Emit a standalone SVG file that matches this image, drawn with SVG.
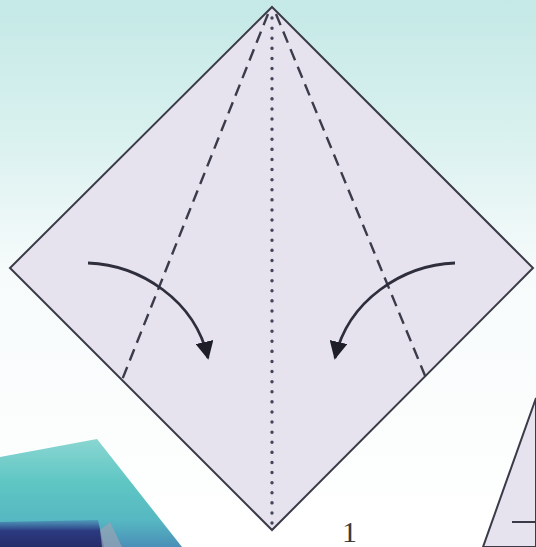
<svg xmlns="http://www.w3.org/2000/svg" width="536" height="547" viewBox="0 0 536 547">
<defs>
<linearGradient id="bg" x1="0" y1="0" x2="0" y2="1">
<stop offset="0" stop-color="#c4e9e6"/>
<stop offset="0.25" stop-color="#d9f1ef"/>
<stop offset="0.5" stop-color="#f7fbfb"/>
<stop offset="1" stop-color="#ffffff"/>
</linearGradient>
<linearGradient id="teal" x1="0" y1="0" x2="0" y2="1">
<stop offset="0" stop-color="#8ad6d2"/>
<stop offset="0.4" stop-color="#5fc6c3"/>
<stop offset="0.75" stop-color="#56b8c2"/>
<stop offset="1" stop-color="#4a8fb8"/>
</linearGradient>
<linearGradient id="navy" x1="0" y1="0" x2="0" y2="1">
<stop offset="0" stop-color="#3a56a0" stop-opacity="0.3"/>
<stop offset="0.4" stop-color="#2b3a80"/>
<stop offset="1" stop-color="#252c6a"/>
</linearGradient>
<marker id="head" viewBox="0 0 10 10" refX="9" refY="5" markerWidth="6.5" markerHeight="6.5" markerUnits="strokeWidth" orient="auto">
<path d="M0,0 L10,5 L0,10 Z" fill="#1e1e28"/>
</marker>
<style>
.edge{fill:#e6e3ef;stroke:#3b3b48;stroke-width:2}
.valley{fill:none;stroke:#3b3b4a;stroke-width:2.4;stroke-dasharray:12 7}
.dot{fill:none;stroke:#44445a;stroke-width:3.4;stroke-dasharray:0.1 10;stroke-linecap:round}
.arrow{fill:none;stroke:#2e2e3c;stroke-width:2.8;marker-end:url(#head)}
.lbl{font-family:"Liberation Serif","Times New Roman",serif;font-size:30px;fill:#3a3a3a}
</style>
</defs>
<rect width="536" height="547" fill="url(#bg)"/>
<g id="bg-shapes">
<path d="M0,457 L97,439 L182,547 L0,547 Z" fill="url(#teal)"/>
<path d="M0,522 L98,520 L104,547 L0,547 Z" fill="url(#navy)"/>
<path d="M100,530 L110,522 L122,547 L102,547 Z" fill="#9aa3b4" opacity="0.7"/>
<path d="M536,398 L483,547 L536,547 Z" fill="#e6e3ef" stroke="#3b3b48" stroke-width="2"/>
<line x1="512" y1="522" x2="536" y2="522" stroke="#3b3b48" stroke-width="2"/>
</g>
<g id="paper">
<path class="edge" d="M272,7 L533,268 L272,530 L10,268 Z"/>
</g>
<g id="folds">
<line class="valley" x1="268" y1="14" x2="122" y2="380"/>
<line class="valley" x1="276" y1="14" x2="426" y2="378"/>
<line class="dot" x1="272" y1="18" x2="272" y2="528"/>
</g>
<g id="arrows">
<path class="arrow" d="M88,263 C140,265 195,300 208,358"/>
<path class="arrow" d="M455,263 C403,265 348,300 335,358"/>
</g>
<text class="lbl" x="342" y="542">1</text>
</svg>
